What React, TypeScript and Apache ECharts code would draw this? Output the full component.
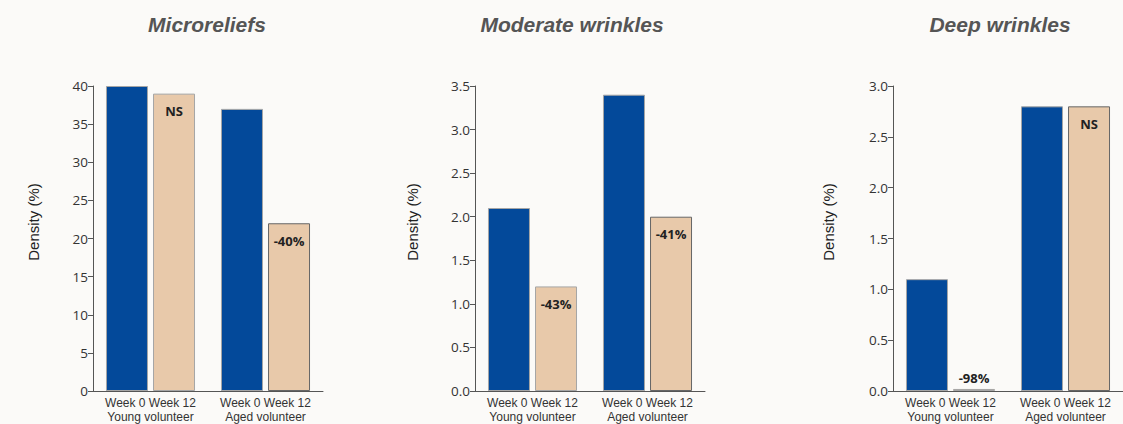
import React, { useEffect, useRef } from "react";
import * as echarts from "echarts";

const titles = ["Microreliefs", "Moderate wrinkles", "Deep wrinkles"];
const groups = ["Young volunteer", "Aged volunteer"];
const yName = "Density (%)";
const week0 = [
  [40, 37],
  [2.1, 3.4],
  [1.1, 2.8],
];
const week12 = [
  [39, 22],
  [1.2, 2.0],
  [0.02, 2.8],
];
const week12Labels = [
  ["NS", "-40%"],
  ["-43%", "-41%"],
  ["-98%", "NS"],
];
const yMax = [40, 3.5, 3.0];
const yInterval = [5, 0.5, 0.5];
const yDecimals = [0, 1, 1];

const gridLefts = [93, 475, 893];
const titleCenters = [202, 567, 995];
const nameCenters = [33, 412, 828];

export default function App() {
  const ref = useRef<HTMLDivElement>(null);
  useEffect(() => {
    document.body.style.margin = "0";
    const chart = echarts.init(ref.current!, null, { renderer: "svg" });
    const axisColor = "#555";
    const grid: any[] = [];
    const xAxis: any[] = [];
    const yAxis: any[] = [];
    const series: any[] = [];
    const title: any[] = [];
    const graphic: any[] = [];
    for (let i = 0; i < 3; i++) {
      title.push({
        text: titles[i],
        left: titleCenters[i],
        top: 9,
        textAlign: "center",
        textStyle: {
          fontFamily: "Liberation Sans, Arial, sans-serif",
          fontSize: 21,
          fontWeight: "bold",
          fontStyle: "italic",
          color: "#555",
        },
      });
      graphic.push({
        type: "text",
        x: nameCenters[i],
        y: 222,
        rotation: Math.PI / 2,
        style: {
          text: yName,
          fontFamily: "Liberation Sans, Arial, sans-serif",
          fontSize: 15,
          fill: "#222",
          align: "center",
          verticalAlign: "middle",
        },
      });
      grid.push({ left: gridLefts[i], width: 230, top: 86, height: 306 });
      xAxis.push({
        type: "category",
        gridIndex: i,
        data: groups.map((g) => "Week 0 Week 12\n" + g),
        axisLine: { lineStyle: { color: axisColor, width: 1 } },
        axisTick: { inside: true, length: 6, lineStyle: { color: axisColor } },
        axisLabel: {
          interval: 0,
          hideOverlap: false,
          fontFamily: "Liberation Sans, Arial, sans-serif",
          fontSize: 12,
          color: "#333",
          lineHeight: 14,
          margin: 5,
        },
      });
      yAxis.push({
        type: "value",
        gridIndex: i,
        min: 0,
        max: yMax[i],
        interval: yInterval[i],
        splitLine: { show: false },
        axisLine: { show: true, lineStyle: { color: axisColor, width: 1 } },
        axisTick: { show: true, length: 5, lineStyle: { color: axisColor } },
        axisLabel: {
          fontFamily: "Open Sans, Noto Sans, sans-serif",
          fontSize: 13.5,
          color: "#333",
          margin: 5,
          formatter: (v: number) => v.toFixed(yDecimals[i]),
        },
      });
      series.push({
        type: "bar",
        xAxisIndex: i,
        yAxisIndex: i,
        barWidth: 42,
        barGap: "12%",
        data: week0[i],
        itemStyle: { color: "#03499a", borderColor: "#a5a5a5", borderWidth: 1 },
      });
      series.push({
        type: "bar",
        xAxisIndex: i,
        yAxisIndex: i,
        barWidth: 42,
        barGap: "12%",
        data: week12[i].map((v, j) => ({
          value: v,
          itemStyle: {
            color: "#e8c9aa",
            borderColor: j === 0 ? "#a5a5a5" : "#666",
            borderWidth: 1,
          },
          label: {
            show: true,
            formatter: week12Labels[i][j],
            position: v < 0.2 ? "top" : "insideTop",
            distance: v < 0.2 ? 4 : 11,
            fontFamily: "Open Sans, Noto Sans, sans-serif",
            fontWeight: "bold",
            fontSize: 13,
            color: "#222",
          },
        })),
      });
    }
    chart.setOption({
      animation: false,
      backgroundColor: "#fbfaf8",
      title,
      grid,
      xAxis,
      yAxis,
      series,
      graphic,
    });
    return () => chart.dispose();
  }, []);
  return <div ref={ref} style={{ width: 1123, height: 424 }} />;
}
